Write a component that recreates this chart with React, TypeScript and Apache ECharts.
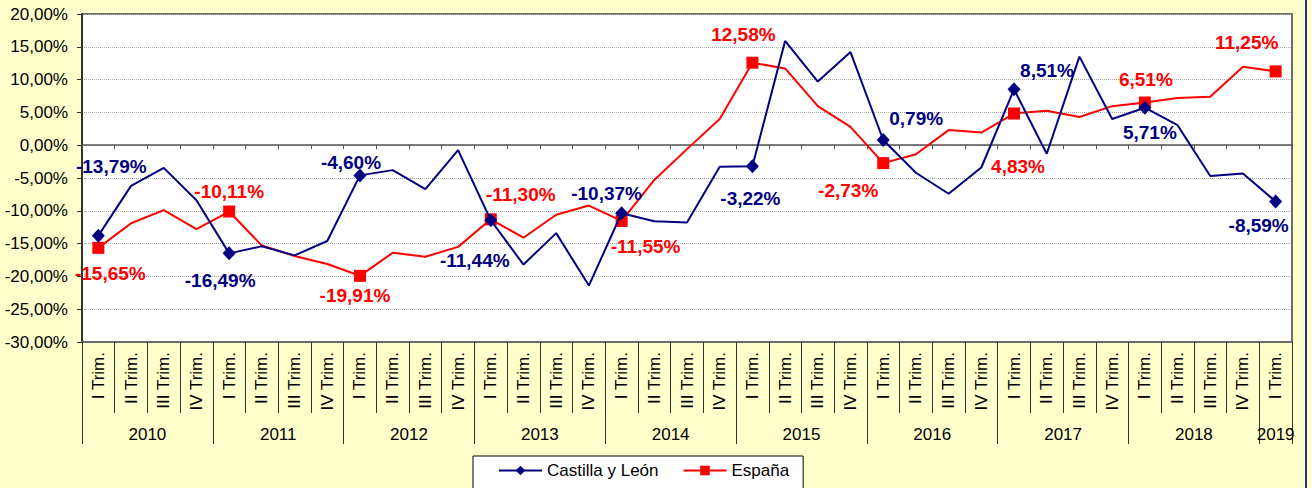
import React, { useEffect, useRef } from "react";
import * as echarts from "echarts";

const quarters = [
  "I Trim.", "II Trim.", "III Trim.", "IV Trim.",
  "I Trim.", "II Trim.", "III Trim.", "IV Trim.",
  "I Trim.", "II Trim.", "III Trim.", "IV Trim.",
  "I Trim.", "II Trim.", "III Trim.", "IV Trim.",
  "I Trim.", "II Trim.", "III Trim.", "IV Trim.",
  "I Trim.", "II Trim.", "III Trim.", "IV Trim.",
  "I Trim.", "II Trim.", "III Trim.", "IV Trim.",
  "I Trim.", "II Trim.", "III Trim.", "IV Trim.",
  "I Trim.", "II Trim.", "III Trim.", "IV Trim.",
  "I Trim.",
];

const years = ["2010", "2011", "2012", "2013", "2014", "2015", "2016", "2017", "2018", "2019"];

const castilla = [
  -13.79, -6.2, -3.46, -8.4, -16.49, -15.4, -16.8, -14.6, -4.6, -3.8, -6.7, -0.76,
  -11.44, -18.2, -13.4, -21.4, -10.37, -11.6, -11.8, -3.3, -3.22, 15.9, 9.7, 14.2,
  0.79, -4.2, -7.4, -3.4, 8.51, -1.3, 13.5, 4.0, 5.71, 3.05, -4.7, -4.3, -8.59,
];

const espana = [
  -15.65, -11.9, -9.9, -12.8, -10.11, -15.3, -16.9, -18.1, -19.91, -16.4, -17.0, -15.5,
  -11.3, -14.1, -10.6, -9.2, -11.55, -5.3, -0.6, 4.0, 12.58, 11.7, 5.95, 2.8,
  -2.73, -1.37, 2.3, 1.93, 4.83, 5.24, 4.3, 5.95, 6.51, 7.2, 7.4, 11.96, 11.25,
];

// label offsets (px) for the labelled points (every "I Trim.")
const castillaLabelOffsets: number[][] = [
  [13, -69], [-9, 27], [-9, -13], [-16, 40], [-15, -20],
  [-2, 32], [33, -22], [33, -19], [5, 25], [-17, 24],
];
const espanaLabelOffsets: number[][] = [
  [12, 26], [0, -20], [-5, 20], [30, -25], [24, 26],
  [-9, -28], [-35, 27], [4, 53], [1, -23], [-29, -29],
];

const FONT = 'Arial, "Liberation Sans", sans-serif';

const fmt = (v: number) => `${v.toFixed(2).replace(".", ",")}%`;

function buildData(values: number[], offsets: number[][], symbolSize: number | number[]) {
  return values.map((v, i) => {
    if (i % 4 === 0) {
      const off = offsets[i / 4];
      return {
        value: v,
        symbolSize,
        label: { show: true, offset: off },
      };
    }
    return { value: v, symbol: "none" };
  });
}

export default function App() {
  const ref = useRef<HTMLDivElement>(null);

  useEffect(() => {
    if (!ref.current) return;
    const chart = echarts.init(ref.current, undefined, { renderer: "svg" });

    // half-quarter points for the year axis
    const yearAxisData: string[] = [];
    for (let j = 0; j <= quarters.length * 2; j++) {
      let lab = "";
      if (j % 8 === 4 && j / 8 < years.length) lab = years[(j - 4) / 8];
      if (j === quarters.length * 2 - 1) lab = years[years.length - 1];
      yearAxisData.push(lab);
    }
    const nHalf = quarters.length * 2;

    chart.setOption({
      animation: false,
      backgroundColor: "#FFFFCC",
      textStyle: { fontFamily: FONT },
      grid: {
        left: 82,
        right: 20,
        top: 14,
        bottom: 146,
        show: true,
        backgroundColor: "#ffffff",
        borderColor: "#6b6b6b",
        borderWidth: 2,
      },
      legend: {
        left: 473,
        top: 456,
        padding: [6, 14, 12, 25],
        itemGap: 24,
        itemWidth: 43,
        itemHeight: 12,
        backgroundColor: "#ffffff",
        borderColor: "#000000",
        borderWidth: 1,
        textStyle: { fontFamily: FONT, fontSize: 17, color: "#000" },
        data: ["Castilla y León", "España"],
      },
      xAxis: [
        {
          type: "category",
          position: "bottom",
          data: quarters,
          boundaryGap: true,
          axisLine: { onZero: false, lineStyle: { color: "#6b6b6b", width: 2 } },
          axisTick: { show: true, interval: 0, length: 71, lineStyle: { color: "#333", width: 1 } },
          axisLabel: {
            interval: 0,
            rotate: 90,
            margin: 10,
            fontSize: 17,
            fontFamily: FONT,
            color: "#000",
          },
          splitLine: { show: false },
        },
        {
          type: "category",
          position: "bottom",
          data: yearAxisData,
          boundaryGap: false,
          axisLine: { show: false, onZero: false },
          axisTick: {
            show: true,
            interval: (idx: number) => idx % 8 === 0 || idx === nHalf,
            length: 102,
            lineStyle: { color: "#333", width: 1 },
          },
          axisLabel: {
            interval: (_idx: number, val: string) => val !== "",
            margin: 84,
            fontSize: 17,
            fontFamily: FONT,
            color: "#000",
          },
          splitLine: { show: false },
        },
        {
          type: "category",
          position: "bottom",
          data: quarters,
          boundaryGap: true,
          axisLine: { show: true, onZero: true, lineStyle: { color: "#555", width: 1.5 } },
          axisTick: { show: true, interval: 0, length: 4, lineStyle: { color: "#555", width: 1 } },
          axisLabel: { show: false },
          splitLine: { show: false },
        },
      ],
      yAxis: {
        type: "value",
        min: -30,
        max: 20,
        interval: 5,
        axisLine: { show: true, onZero: false, lineStyle: { color: "#333", width: 2 } },
        axisTick: { show: true, length: 5, lineStyle: { color: "#333" } },
        axisLabel: {
          formatter: (v: number) => fmt(v),
          margin: 14,
          fontSize: 17,
          fontFamily: FONT,
          color: "#000",
        },
        splitLine: { show: true, lineStyle: { type: "dotted", color: "#a8a8a8", width: 1 } },
      },
      series: [
        {
          name: "Castilla y León",
          type: "line",
          xAxisIndex: 0,
          data: buildData(castilla, castillaLabelOffsets, [13, 14]),
          symbol: "diamond",
          symbolSize: [13, 14],
          showSymbol: true,
          showAllSymbol: true,
          color: "#000080",
          lineStyle: { color: "#000080", width: 2 },
          itemStyle: { color: "#000080" },
          label: {
            show: false,
            position: "inside",
            fontSize: 19,
            fontWeight: "bold",
            fontFamily: FONT,
            color: "#000080",
            formatter: (p: any) => fmt(p.value as number),
          },
          z: 3,
        },
        {
          name: "España",
          type: "line",
          xAxisIndex: 0,
          data: buildData(espana, espanaLabelOffsets, 12),
          symbol: "rect",
          symbolSize: 12,
          showSymbol: true,
          showAllSymbol: true,
          color: "#FF0000",
          lineStyle: { color: "#FF0000", width: 2 },
          itemStyle: { color: "#FF0000" },
          label: {
            show: false,
            position: "inside",
            fontSize: 19,
            fontWeight: "bold",
            fontFamily: FONT,
            color: "#FF0000",
            formatter: (p: any) => fmt(p.value as number),
          },
          z: 2,
        },
      ],
      graphic: [
        {
          type: "line",
          shape: { x1: 1306, y1: 0, x2: 1306, y2: 488 },
          style: { stroke: "#2b2b8f", lineWidth: 2 },
          silent: true,
        },
      ],
    });

    return () => chart.dispose();
  }, []);

  return (
    <div
      ref={ref}
      style={{ position: "fixed", left: 0, top: 0, width: 1312, height: 488 }}
    />
  );
}
